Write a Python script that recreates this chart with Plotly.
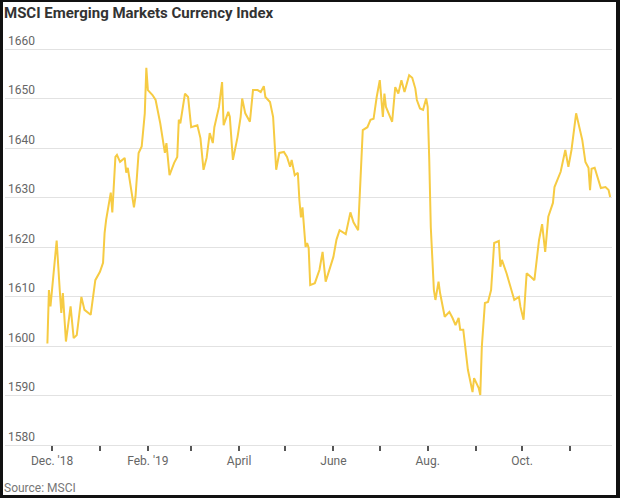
import plotly.graph_objects as go

dates = [
    "2018-11-28", "2018-11-29", "2018-11-30", "2018-12-01", "2018-12-04", "2018-12-06", "2018-12-07",
    "2018-12-08", "2018-12-10", "2018-12-13", "2018-12-15", "2018-12-17", "2018-12-20", "2018-12-22",
    "2018-12-26", "2018-12-29", "2019-01-01", "2019-01-03", "2019-01-04", "2019-01-05", "2019-01-08",
    "2019-01-09", "2019-01-11", "2019-01-12", "2019-01-14", "2019-01-17", "2019-01-18", "2019-01-19",
    "2019-01-23", "2019-01-24", "2019-01-26", "2019-01-28", "2019-01-30", "2019-01-31", "2019-02-01",
    "2019-02-04", "2019-02-06", "2019-02-09", "2019-02-12", "2019-02-13", "2019-02-15", "2019-02-18",
    "2019-02-20", "2019-02-21", "2019-02-22", "2019-02-25", "2019-02-27", "2019-03-01", "2019-03-05",
    "2019-03-07", "2019-03-09", "2019-03-11", "2019-03-13", "2019-03-15", "2019-03-16", "2019-03-19",
    "2019-03-21", "2019-03-22", "2019-03-25", "2019-03-26", "2019-03-28", "2019-03-31", "2019-04-02",
    "2019-04-03", "2019-04-05", "2019-04-08", "2019-04-10", "2019-04-13", "2019-04-15", "2019-04-17",
    "2019-04-18", "2019-04-21", "2019-04-23", "2019-04-25", "2019-04-27", "2019-04-30", "2019-05-02",
    "2019-05-04", "2019-05-05", "2019-05-07", "2019-05-09", "2019-05-10", "2019-05-11", "2019-05-12",
    "2019-05-14", "2019-05-15", "2019-05-16", "2019-05-17", "2019-05-20", "2019-05-23", "2019-05-25",
    "2019-05-27", "2019-05-30", "2019-06-01", "2019-06-03", "2019-06-05", "2019-06-09", "2019-06-12",
    "2019-06-14", "2019-06-17", "2019-06-20", "2019-06-23", "2019-06-25", "2019-06-27", "2019-06-29",
    "2019-07-01", "2019-07-03", "2019-07-04", "2019-07-05", "2019-07-09", "2019-07-11", "2019-07-13",
    "2019-07-15", "2019-07-17", "2019-07-20", "2019-07-22", "2019-07-24", "2019-07-25", "2019-07-27",
    "2019-07-29", "2019-07-31", "2019-08-01", "2019-08-02", "2019-08-03", "2019-08-05", "2019-08-06",
    "2019-08-08", "2019-08-09", "2019-08-12", "2019-08-15", "2019-08-17", "2019-08-19", "2019-08-21",
    "2019-08-22", "2019-08-24", "2019-08-27", "2019-08-30", "2019-08-31", "2019-09-03", "2019-09-04",
    "2019-09-05", "2019-09-07", "2019-09-09", "2019-09-11", "2019-09-13", "2019-09-16", "2019-09-17",
    "2019-09-18", "2019-09-21", "2019-09-23", "2019-09-24", "2019-09-26", "2019-09-29", "2019-09-30",
    "2019-10-02", "2019-10-04", "2019-10-07", "2019-10-09", "2019-10-12", "2019-10-14", "2019-10-16",
    "2019-10-18", "2019-10-21", "2019-10-22", "2019-10-26", "2019-10-29", "2019-10-31", "2019-11-02",
    "2019-11-05", "2019-11-07", "2019-11-09", "2019-11-11", "2019-11-13", "2019-11-14", "2019-11-15",
    "2019-11-17", "2019-11-19", "2019-11-21", "2019-11-24", "2019-11-26", "2019-11-27",
]

index_values = [
    1600.5, 1611.3, 1608.0, 1611.0, 1621.3, 1611.3, 1606.7,
    1610.7, 1600.9, 1608.0, 1601.6, 1602.2, 1609.9, 1607.3,
    1606.3, 1613.3, 1615.0, 1616.8, 1622.8, 1625.5, 1631.0,
    1627.0, 1638.2, 1638.6, 1637.2, 1638.0, 1635.0, 1636.0,
    1628.0, 1630.2, 1639.0, 1640.3, 1647.0, 1656.2, 1651.7,
    1650.7, 1649.7, 1645.0, 1639.0, 1641.0, 1634.5, 1637.0,
    1638.2, 1645.7, 1645.0, 1651.0, 1650.3, 1644.2, 1644.6,
    1642.0, 1635.6, 1638.0, 1643.0, 1641.0, 1644.2, 1648.3,
    1653.3, 1644.6, 1647.3, 1646.3, 1637.6, 1642.2, 1646.3,
    1650.0, 1647.0, 1645.3, 1651.7, 1651.7, 1651.3, 1652.5,
    1650.3, 1649.3, 1646.3, 1635.6, 1639.0, 1639.2, 1638.2,
    1636.2, 1637.6, 1634.5, 1635.0, 1629.5, 1626.0, 1628.0,
    1620.0, 1620.8, 1619.8, 1612.3, 1612.7, 1615.4, 1619.0,
    1613.0, 1616.0, 1618.0, 1621.5, 1623.4, 1622.6, 1627.0,
    1625.0, 1623.4, 1643.6, 1644.2, 1645.7, 1645.9, 1650.3,
    1653.7, 1646.3, 1651.0, 1648.3, 1645.3, 1652.3, 1651.0,
    1653.7, 1651.3, 1654.7, 1654.2, 1652.0, 1649.7, 1648.0,
    1647.7, 1650.0, 1648.3, 1637.6, 1624.0, 1611.3, 1609.3,
    1613.0, 1610.7, 1605.9, 1606.9, 1605.7, 1604.2, 1605.7,
    1603.3, 1603.3, 1595.2, 1590.7, 1593.5, 1591.5, 1590.1,
    1599.8, 1608.7, 1608.9, 1611.3, 1620.8, 1621.2, 1616.0,
    1617.4, 1614.7, 1612.7, 1611.7, 1609.3, 1609.9, 1607.9,
    1605.3, 1614.7, 1613.9, 1613.3, 1621.4, 1624.6, 1619.0,
    1626.1, 1628.9, 1632.1, 1635.2, 1639.6, 1636.2, 1639.6,
    1647.0, 1644.0, 1641.6, 1637.2, 1636.0, 1631.5, 1635.8,
    1636.0, 1634.1, 1631.9, 1632.1, 1631.5, 1630.1,
]

tick_dates = [
    "2018-12-01", "2019-01-01", "2019-02-01", "2019-03-01", "2019-04-01", "2019-05-01",
    "2019-06-01", "2019-07-01", "2019-08-01", "2019-09-01", "2019-10-01", "2019-11-01",
]
tick_labels = ["Dec. '18", "", "Feb. '19", "", "April", "", "June", "", "Aug.", "", "Oct.", ""]

y_ticks = [1580, 1590, 1600, 1610, 1620, 1630, 1640, 1650, 1660]

FONT = "Roboto, Liberation Sans, sans-serif"

fig = go.Figure()
fig.add_trace(go.Scatter(
    x=dates, y=index_values, mode="lines",
    line=dict(color="#F6CB43", width=2),
    hoverinfo="skip", showlegend=False,
))

W, H = 620, 498
PX_PER_UNIT = 4.95
L, R, T, B = 5, 8, 26, 53
Y_TOP = 1660 + (49 - T) / PX_PER_UNIT
pw, ph = W - L - R, H - T - B

def px_x(p):
    return (p - L) / pw

def px_y(p):
    return 1 - (p - T) / ph

fig.update_layout(
    width=W, height=H,
    margin=dict(l=L, r=R, t=T, b=B, autoexpand=False),
    paper_bgcolor="white", plot_bgcolor="white",
    font=dict(family=FONT, color="#666666", size=12),
    xaxis=dict(
        type="date", automargin=False,
        range=["2018-10-31 14:00", "2019-11-28 05:00"],
        tickvals=tick_dates, ticktext=tick_labels,
        ticks="outside", ticklen=5, tickwidth=1.5, tickcolor="#555555",
        showgrid=False, showline=True, linecolor="#e2e2e2", linewidth=1,
        zeroline=False,
        tickfont=dict(family=FONT, size=12, color="#666666"),
    ),
    yaxis=dict(
        automargin=False,
        range=[1580, Y_TOP],
        tickvals=y_ticks,
        ticklabelposition="inside top",
        showgrid=True, gridcolor="#e2e2e2", gridwidth=1,
        zeroline=False, showline=False, ticks="",
        tickfont=dict(family=FONT, size=12, color="#666666"),
    ),
    annotations=[
        dict(text="<b>MSCI Emerging Markets Currency Index</b>", xref="paper", yref="paper",
             x=px_x(2), y=px_y(13), xanchor="left", yanchor="middle", showarrow=False,
             font=dict(family=FONT, size=15, color="#333333")),
        dict(text="Source: MSCI", xref="paper", yref="paper",
             x=px_x(2), y=px_y(488), xanchor="left", yanchor="middle", showarrow=False,
             font=dict(family=FONT, size=12, color="#777777")),
    ],
    shapes=[
        dict(type="rect", xref="paper", yref="paper", x0=px_x(0), x1=px_x(3), y0=px_y(0), y1=px_y(H),
             fillcolor="#111111", line=dict(width=0), layer="above"),
        dict(type="rect", xref="paper", yref="paper", x0=px_x(616), x1=px_x(W), y0=px_y(0), y1=px_y(H),
             fillcolor="#111111", line=dict(width=0), layer="above"),
        dict(type="rect", xref="paper", yref="paper", x0=px_x(0), x1=px_x(W), y0=px_y(495), y1=px_y(H),
             fillcolor="#111111", line=dict(width=0), layer="above"),
        dict(type="rect", xref="paper", yref="paper", x0=px_x(0), x1=px_x(W), y0=px_y(0), y1=px_y(2),
             fillcolor="#111111", line=dict(width=0), layer="above"),
    ],
)

fig.write_html("out.html", config={"displayModeBar": False},
               post_script="document.body.style.margin='0';")
